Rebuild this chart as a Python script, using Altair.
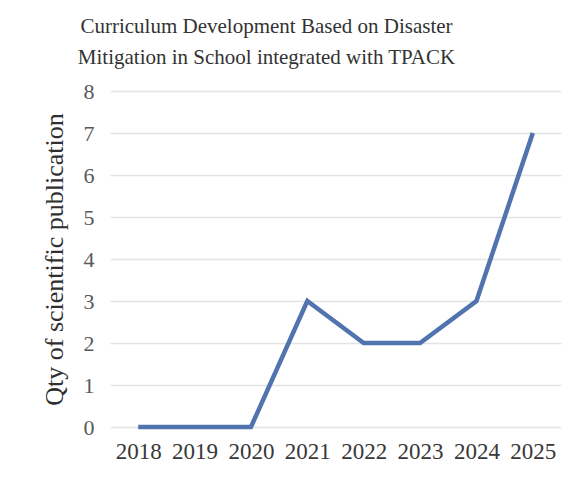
import altair as alt
import pandas as pd

years = ["2018", "2019", "2020", "2021", "2022", "2023", "2024", "2025"]
counts = [0, 0, 0, 3, 2, 2, 3, 7]

df = pd.DataFrame({"year": years, "count": counts})

FONT = "Liberation Serif, Times New Roman, serif"

chart = alt.Chart(df).mark_line(color="#5274ae", strokeWidth=4.5).encode(
    x=alt.X("year:N", sort=years, title=None,
            scale=alt.Scale(type="point", padding=0.5),
            axis=alt.Axis(labelAngle=0, labelFont=FONT, labelFontSize=23,
                          labelColor="#383838", domain=False, ticks=False,
                          grid=False, labelPadding=13)),
    y=alt.Y("count:Q", title="Qty of scientific publication",
            scale=alt.Scale(domain=[0, 8]),
            axis=alt.Axis(values=list(range(9)), labelFont=FONT, labelFontSize=22,
                          labelColor="#595959", domain=False, ticks=False,
                          gridColor="#e3e3e3", gridWidth=1.5, labelPadding=16,
                          titleFont=FONT, titleFontSize=26, titleFontWeight="normal",
                          titleColor="#303030", titlePadding=16)),
).properties(
    width=451, height=336,
    background="white",
    title=alt.TitleParams(
        ["Curriculum Development Based on Disaster",
         "Mitigation in School integrated with TPACK"],
        font=FONT, fontSize=21, fontWeight="normal", color="#333333",
        lineHeight=31, anchor="middle", dx=-69, offset=12,
    ),
    autosize=alt.AutoSizeParams(type="none"),
    padding={"left": 110, "top": 91, "right": 21, "bottom": 61},
).configure_view(strokeWidth=0)

chart.save("out.html", embed_options={"renderer": "svg", "actions": False})
